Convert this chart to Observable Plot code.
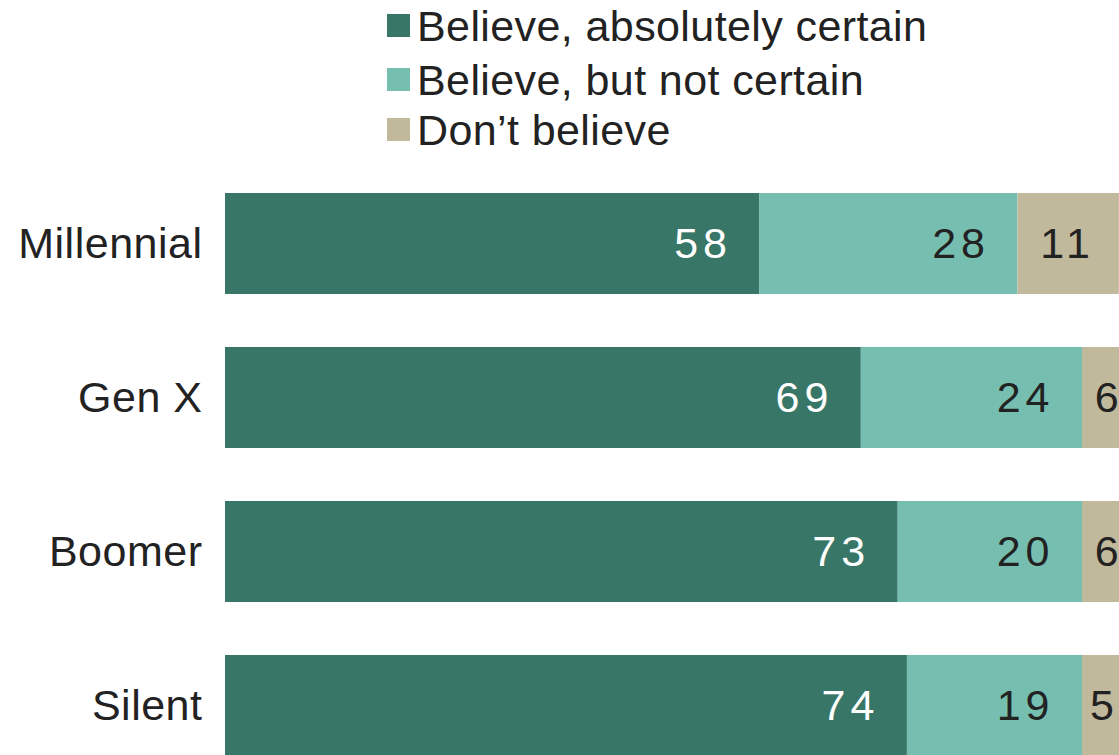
<!DOCTYPE html>
<html>
<head>
<meta charset="utf-8">
<script src="https://cdn.jsdelivr.net/npm/d3@7"></script>
<script src="https://cdn.jsdelivr.net/npm/@observablehq/plot@0.6"></script>
<style>
  html, body { margin: 0; padding: 0; background: #fff; overflow: hidden; }
  body { font-family: "Liberation Sans", Arial, sans-serif; }
  #wrap { position: relative; width: 1119px; height: 755px; overflow: hidden; }
  #legend { position: absolute; left: 387px; top: 0; }
  .row { position: absolute; left: 0; height: 43px; font-size: 43px; line-height: 43px; color: #222; white-space: nowrap; letter-spacing: 0.4px; }
  .sw { position: absolute; left: 0; top: 9.4px; width: 23px; height: 23px; }
  .lab { position: absolute; left: 30px; top: 0; }
  #chart svg text { letter-spacing: 0.5px; }
  #chart svg g.vals text { letter-spacing: 5px; }
</style>
</head>
<body>
<div id="wrap">
  <div id="chart"></div>
  <div id="legend"></div>
</div>
<script>
// ---- data ----
const generations = ["Millennial", "Gen X", "Boomer", "Silent"];
const seriesNames = ["Believe, absolutely certain", "Believe, but not certain", "Don\u2019t believe"];
const absolutelyCertain = [58, 69, 73, 74];
const notCertain = [28, 24, 20, 19];
const dontBelieve = [11, 6, 6, 5];
const seriesColors = ["#387667", "#76bfb0", "#c1b99c"];

// ---- table built from the arrays ----
const seriesValues = [absolutelyCertain, notCertain, dontBelieve];
const rows = [];
generations.forEach((g, i) => {
  let acc = 0;
  seriesValues.forEach((arr, s) => {
    rows.push({gen: g, series: seriesNames[s], s, value: arr[i], x1: acc, x2: acc + arr[i]});
    acc += arr[i];
  });
});

const font = '"Liberation Sans", Arial, sans-serif';

const chart = Plot.plot({
  width: 1119,
  height: 755,
  marginLeft: 225,
  marginRight: 0,
  marginTop: 0,
  marginBottom: 0,
  x: {domain: [0, 100], range: [225, 1146.5], axis: null},
  y: {domain: generations, range: [138, 811], padding: 0.342, axis: null},
  color: {domain: seriesNames, range: seriesColors},
  style: {fontFamily: font, fontSize: "43px", color: "#222", background: "#fff", overflow: "hidden"},
  marks: [
    Plot.barX(rows, {x1: "x1", x2: "x2", y: "gen", fill: "series"}),
    Plot.text(rows.filter(d => d.s === 0), {x: "x2", y: "gen", text: "value", textAnchor: "end", dx: -28, fill: "white", fontSize: 43, className: "vals"}),
    Plot.text(rows.filter(d => d.s === 1), {x: "x2", y: "gen", text: "value", textAnchor: "end", dx: -28, fill: "#222", fontSize: 43, className: "vals"}),
    Plot.text(rows.filter(d => d.s === 2), {x: d => (d.x1 + d.x2) / 2, y: "gen", text: "value", dx: -1, fill: "#222", fontSize: 43, className: "vals"}),
    Plot.axisY({tickSize: 0, tickPadding: 23, fontSize: 43, label: null, fill: "#222"})
  ]
});
document.getElementById("chart").appendChild(chart);

// ---- legend (HTML) ----
const legendTops = [4.6, 58.6, 108.6];
const legend = document.getElementById("legend");
seriesNames.forEach((name, i) => {
  const row = document.createElement("div");
  row.className = "row";
  row.style.top = legendTops[i] + "px";
  const sw = document.createElement("span");
  sw.className = "sw";
  sw.style.background = seriesColors[i];
  const lab = document.createElement("span");
  lab.className = "lab";
  lab.textContent = name;
  row.appendChild(sw);
  row.appendChild(lab);
  legend.appendChild(row);
});
</script>
</body>
</html>
